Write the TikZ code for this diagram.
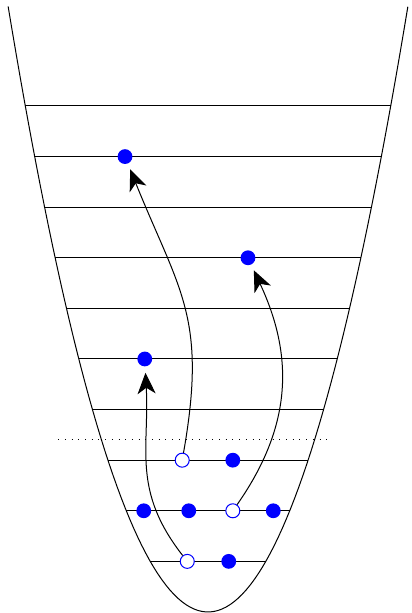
\documentclass[tikz,border=0pt]{standalone}
\usepackage{tikz}
\usetikzlibrary{arrows.meta, positioning}
\definecolor{particle}{HTML}{0000FF}
\definecolor{wall}{HTML}{000000}
\tikzset{
  well/.style={draw=wall, line width=0.5pt},
  level/.style={draw=wall, line width=0.5pt},
  fermi/.style={draw=wall, line width=0.5pt, dash pattern=on 0.5pt off 2.85pt},
  electron/.style={
    circle, fill=particle, draw=none, inner sep=0pt, minimum size=7.4pt
  },
  hole/.style={
    circle, fill=white, draw=particle, line width=0.5pt, inner sep=0pt,
    minimum size=7pt
  },
  jump/.style={
    draw=black, line width=0.5pt, shorten >=3pt,
    -{Stealth[length=10.5pt, width=9pt, inset=3pt]}
  }
}

\begin{document}
\begin{tikzpicture}[x=25.3pt, y=25.3pt]
  \useasboundingbox (-4.111, -0.02) rectangle (4.012, 12.095);

  % ---- Potential well ------------------------------------------------------
  \draw[well] plot[domain=-3.95:3.95, samples=100] (\x, {0.767*\x*\x});

  % ---- Energy levels n = 1 ... 10 -----------------------------------------
  \foreach \n in {1,...,10} {
    \pgfmathsetmacro{\w}{sqrt(\n/0.767)}
    \draw[level] (-\w, \n) -- (\w, \n);
  }

  % ---- Fermi level ---------------------------------------------------------
  \draw[fermi] (-2.96, 3.4) -- (2.41, 3.4);

  % ---- Occupied states -----------------------------------------------------
  \node[hole]     (h1)  at (-0.41, 1) {};
  \node[electron] (e1)  at ( 0.41, 1) {};
  \node[electron] (e2a) at (-1.27, 2) {};
  \node[electron] (e2b) at (-0.38, 2) {};
  \node[hole]     (h2)  at ( 0.49, 2) {};
  \node[electron] (e2c) at ( 1.29, 2) {};
  \node[hole]     (h3)  at (-0.51, 3) {};
  \node[electron] (e3)  at ( 0.49, 3) {};

  % ---- Excited states ------------------------------------------------------
  \node[electron] (x5) at (-1.25, 5) {};
  \node[electron] (x7) at ( 0.79, 7) {};
  \node[electron] (x9) at (-1.64, 9) {};

  % ---- Excitations ---------------------------------------------------------
  \draw[jump] (h1) to[out=128, in=-87, looseness=1.1] (x5);
  \draw[jump] (h3) to[out=80, in=-68, looseness=1.2] (x9);
  \draw[jump] (h2) to[out=55, in=-65, looseness=1.05] (x7);

\end{tikzpicture}
\end{document}
